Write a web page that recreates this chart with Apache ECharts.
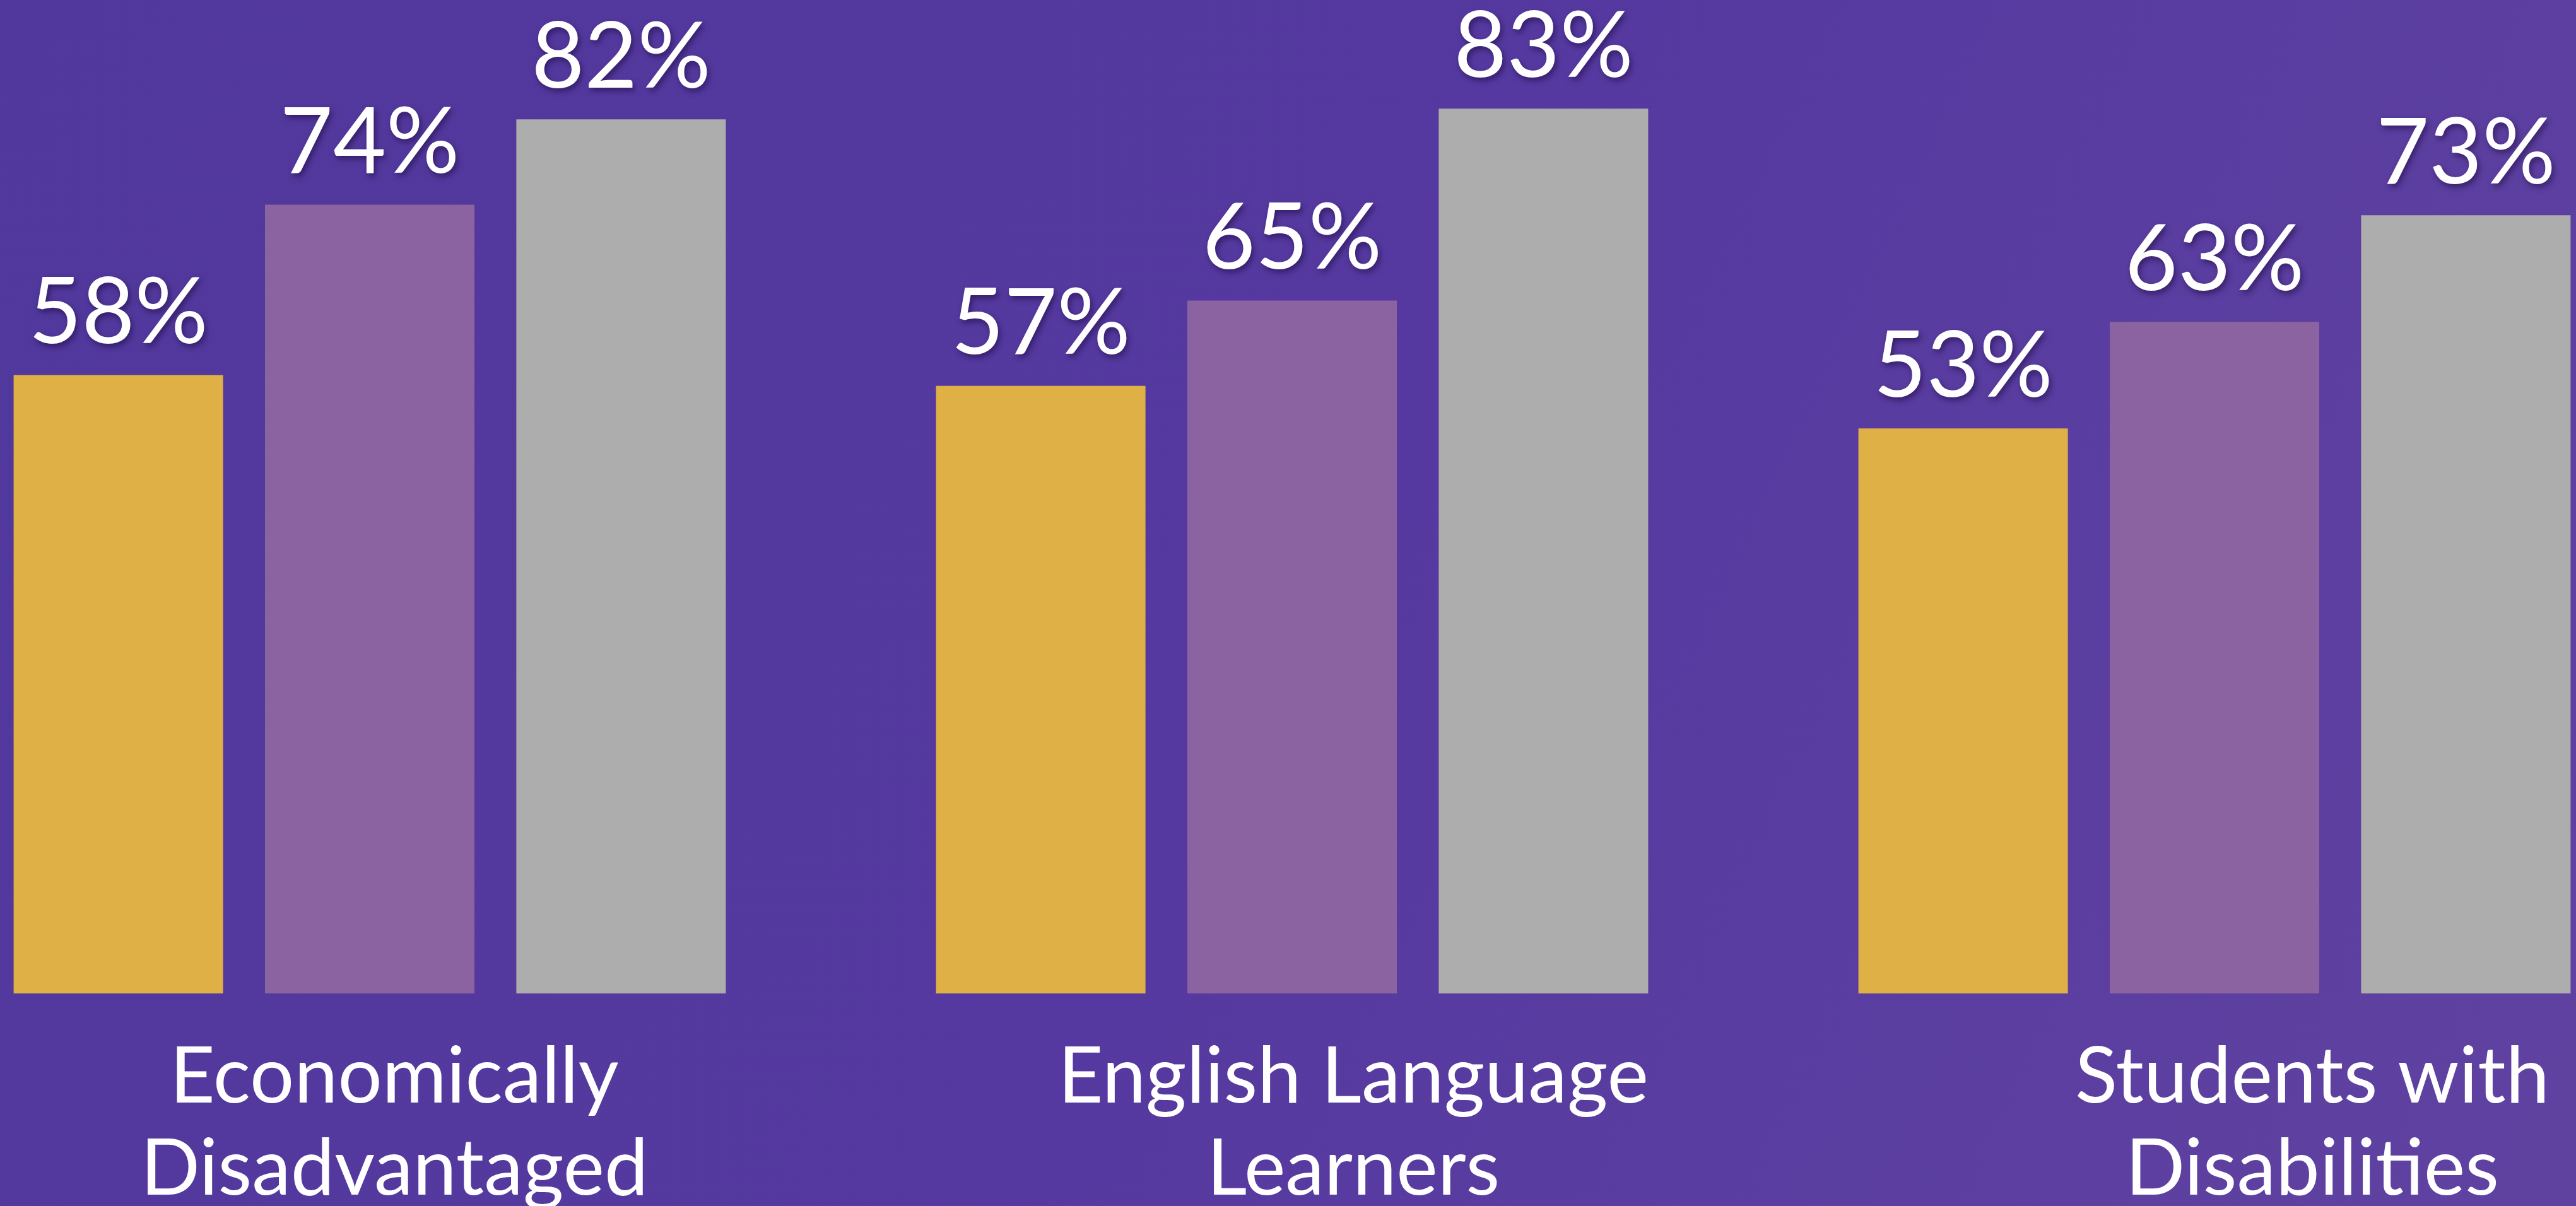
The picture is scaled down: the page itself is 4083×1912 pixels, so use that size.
<!DOCTYPE html>
<html>
<head>
<meta charset="utf-8">
<script src="https://cdn.jsdelivr.net/npm/echarts@6/dist/echarts.min.js"></script>
<style>
  html, body { margin: 0; padding: 0; }
  #chart { width: 4083px; height: 1912px; }
</style>
</head>
<body>
<div id="chart"></div>
<script>
// groups along the bottom
var categories = ['Economically\nDisadvantaged', 'English Language\nLearners', 'Students with\nDisabilities'];
// three bars per group (left, middle, right)
var seriesNames = ['Series 1', 'Series 2', 'Series 3'];
var valuesGold = [58, 57, 53];
var valuesPurple = [74, 65, 63];
var valuesGray = [82, 83, 73];

var colors = ['#dfb045', '#8a63a0', '#adadad'];
var font = 'Lato, "Open Sans", sans-serif';

function barSeries(name, data, color) {
  return {
    name: name,
    type: 'bar',
    data: data,
    barWidth: 332,
    barGap: '20%',
    itemStyle: { color: color },
    label: {
      show: true,
      position: 'top',
      distance: 25,
      formatter: '{c}%',
      color: '#ffffff',
      fontFamily: font,
      fontSize: 145,
      lineHeight: 145,
      textShadowColor: 'rgba(20,0,50,0.5)',
      textShadowBlur: 10,
      textShadowOffsetX: 3,
      textShadowOffsetY: 5
    },
    silent: true
  };
}

var chart = echarts.init(document.getElementById('chart'));
chart.setOption({
  animation: false,
  backgroundColor: {
    type: 'linear', x: 0, y: 0, x2: 1, y2: 1,
    colorStops: [
      { offset: 0, color: '#51389c' },
      { offset: 0.5, color: '#5539a0' },
      { offset: 1, color: '#5f42a0' }
    ]
  },
  grid: [
    // bars; the first and last bands run past the page edges
    { left: -145, right: -158, top: 0, bottom: 337, outerBoundsMode: 'none', containLabel: false },
    // group labels sit on their own, slightly wider spacing
    { left: -135, right: -342, top: 0, bottom: 337, outerBoundsMode: 'none', containLabel: false }
  ],
  xAxis: [
    {
      type: 'category', gridIndex: 0, data: categories,
      axisLine: { show: false }, axisTick: { show: false }, axisLabel: { show: false }
    },
    {
      type: 'category', gridIndex: 1, data: categories,
      axisLine: { show: false }, axisTick: { show: false },
      axisLabel: {
        margin: 60,
        color: '#ffffff',
        fontFamily: font,
        fontSize: 124,
        lineHeight: 146,
        align: 'center'
      }
    }
  ],
  yAxis: [
    { type: 'value', gridIndex: 0, min: 0, max: 93.2, show: false },
    { type: 'value', gridIndex: 1, min: 0, max: 93.2, show: false }
  ],
  series: [
    barSeries(seriesNames[0], valuesGold, colors[0]),
    barSeries(seriesNames[1], valuesPurple, colors[1]),
    barSeries(seriesNames[2], valuesGray, colors[2])
  ]
});
</script>
</body>
</html>
